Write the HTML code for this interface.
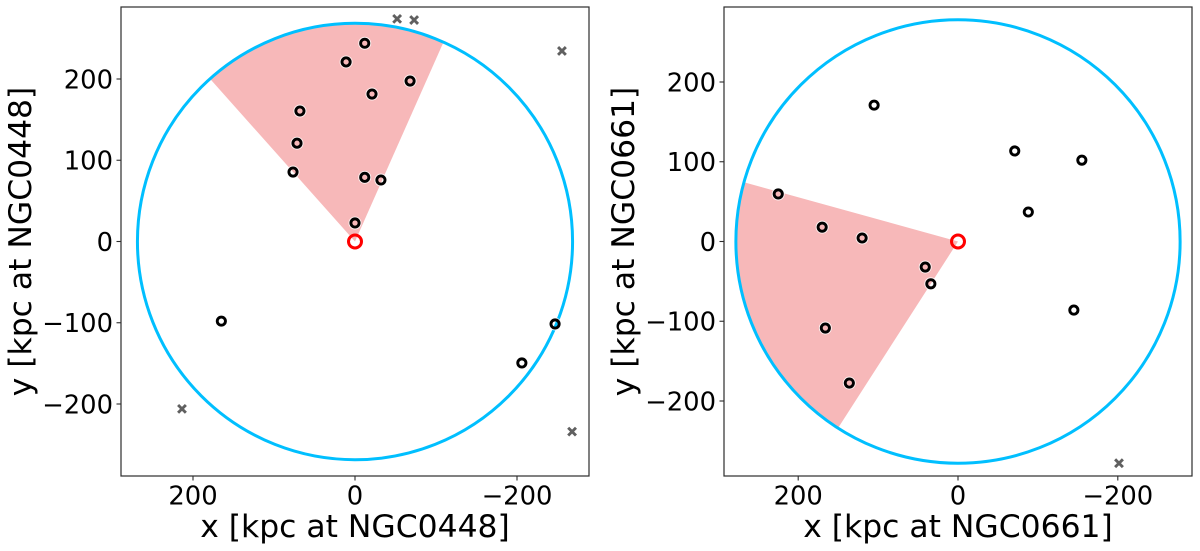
<!DOCTYPE html>
<html>
<head>
<meta charset="utf-8">
<style>
html,body{margin:0;padding:0;background:#fff;width:1200px;height:551px;overflow:hidden}
svg{display:block}
text{font-family:"DejaVu Sans","Liberation Sans",sans-serif;fill:#000}
</style>
</head>
<body>
<svg id="fig" width="1200" height="551" viewBox="0 0 1200 551" xmlns="http://www.w3.org/2000/svg">
  <text x="355" y="537" font-size="31.4" text-anchor="middle">x [kpc at NGC0448]</text>
  <text transform="translate(31,241.5) rotate(-90)" font-size="31.4" text-anchor="middle">y [kpc at NGC0448]</text>
  <text x="958" y="537" font-size="31.4" text-anchor="middle">x [kpc at NGC0661]</text>
  <text transform="translate(634,241.5) rotate(-90)" font-size="31.4" text-anchor="middle">y [kpc at NGC0661]</text>
</svg>
<script>
// Shared tick values
const xTicks = [200, 0, -200];
const yTicksLeft = [200, 100, 0, -100, -200];
const yTicksRight = [200, 100, 0, -100, -200];

// NGC0448 panel data (kpc)
const leftRadius = 268.6;
const leftWedgeAngles = [48.2, 114];
const leftMembersX = [-12, 11, -21, -68, 68, 71.6, 76.5, -12, -32, 0, 165, -247, -206];
const leftMembersY = [244, 221, 181.5, 197.5, 160.6, 121, 85.5, 79, 75.7, 22.8, -98, -101.5, -149.5];
const leftOutsideX = [-52, -73, -255.5, 213.6, -268];
const leftOutsideY = [274, 272.6, 234.5, -206, -234];

// NGC0661 panel data (kpc)
const rightRadius = 278;
const rightWedgeAngles = [-57.3, 15.5];
const rightMembersX = [105, -71, -155, -88, 225, 170, 120, 41, 34, 166, 136, -145];
const rightMembersY = [171, 113.5, 102, 37, 59.6, 18, 4.4, -32, -53, -108.5, -177.5, -86];
const rightOutsideX = [-201.5];
const rightOutsideY = [-278];

const NS = 'http://www.w3.org/2000/svg';
const svg = document.getElementById('fig');
const xTickLabelOffset = 28.5;

function make(tag, attrs, parent) {
  const el = document.createElementNS(NS, tag);
  for (const k in attrs) el.setAttribute(k, attrs[k]);
  parent.appendChild(el);
  return el;
}

function drawPanel(p) {
  const sx = v => p.cx - v * p.kx;
  const sy = v => p.cy - v * p.ky;

  const g = make('g', {}, svg);
  
  

  // Wedge
  let d = '';
  const a0 = p.wedge[0], a1 = p.wedge[1];
  const steps = 60;
  d += 'M' + sx(0) + ' ' + sy(0);
  for (let i = 0; i <= steps; i++) {
    const a = (a0 + (a1 - a0) * i / steps) * Math.PI / 180;
    d += 'L' + sx(p.radius * Math.cos(a)).toFixed(2) + ' ' + sy(p.radius * Math.sin(a)).toFixed(2);
  }
  d += 'Z';
  const wedge = make('path', { d: d, fill: '#f7b8b9', stroke: 'none' }, g);
  
  

  // Virial circle
  const circle = make('ellipse', {
    cx: sx(0), cy: sy(0), rx: p.radius * p.kx, ry: p.radius * p.ky,
    fill: 'none', stroke: '#00bfff', 'stroke-width': 3
  }, g);
  
  

  // Outside satellites (crosses)
  p.outX.forEach((v, i) => {
    const x = sx(v), y = sy(p.outY[i]), r = 3.9;
    const cross = make('path', {
      d: `M${x - r} ${y - r}L${x + r} ${y + r}M${x - r} ${y + r}L${x + r} ${y - r}`,
      stroke: '#606060', 'stroke-width': 2.9, fill: 'none'
    }, g);
    
    
  });

  // Member satellites (open rings with thin white halo)
  p.memX.forEach((v, i) => {
    const x = sx(v), y = sy(p.memY[i]);
    const pt = make('g', {}, g);
    
    
    make('circle', { cx: x, cy: y, r: 5.9, fill: 'none', stroke: '#fff', 'stroke-width': 1.2, opacity: 0.8 }, pt);
    make('circle', { cx: x, cy: y, r: 4.1, fill: 'none', stroke: '#000', 'stroke-width': 2.9 }, pt);
  });

  // Host galaxy
  const host = make('circle', {
    cx: sx(0), cy: sy(0), r: 6.5, fill: 'none', stroke: '#ff0000', 'stroke-width': 3
  }, g);
  
  

  // Frame
  const frame = make('rect', {
    x: p.left, y: p.top, width: p.right - p.left, height: p.bottom - p.top,
    fill: 'none', stroke: '#2c2c2c', 'stroke-width': 1.2
  }, g);
  
  

  // X ticks
  p.xTicks.forEach(t => {
    const x = sx(t);
    const tick = make('line', { x1: x, x2: x, y1: p.bottom, y2: p.bottom + 4.5, stroke: '#2c2c2c', 'stroke-width': 1.1 }, g);
    
    
    const label = make('text', { x: x, y: p.bottom + xTickLabelOffset, 'font-size': 25.8, 'text-anchor': 'middle' }, g);
    label.textContent = String(t).replace('-', '\u2212');
    
    
  });

  // Y ticks
  p.yTicks.forEach(t => {
    const y = sy(t);
    const tick = make('line', { x1: p.left - 4.5, x2: p.left, y1: y, y2: y, stroke: '#2c2c2c', 'stroke-width': 1.1 }, g);
    
    
    const label = make('text', { x: p.left - 8, y: y + 9.4, 'font-size': 25.8, 'text-anchor': 'end' }, g);
    label.textContent = String(t).replace('-', '\u2212');
    
    
  });
}

drawPanel({
  id: 'ngc0448', left: 121, right: 589, top: 7, bottom: 476,
  cx: 355, cy: 241.5, kx: 0.81, ky: 0.8125,
  radius: leftRadius, wedge: leftWedgeAngles,
  memX: leftMembersX, memY: leftMembersY,
  outX: leftOutsideX, outY: leftOutsideY,
  xTicks: xTicks, yTicks: yTicksLeft
});

drawPanel({
  id: 'ngc0661', left: 724, right: 1192, top: 7, bottom: 476,
  cx: 958, cy: 241.5, kx: 0.799, ky: 0.7975,
  radius: rightRadius, wedge: rightWedgeAngles,
  memX: rightMembersX, memY: rightMembersY,
  outX: rightOutsideX, outY: rightOutsideY,
  xTicks: xTicks, yTicks: yTicksRight
});
</script>
</body>
</html>
